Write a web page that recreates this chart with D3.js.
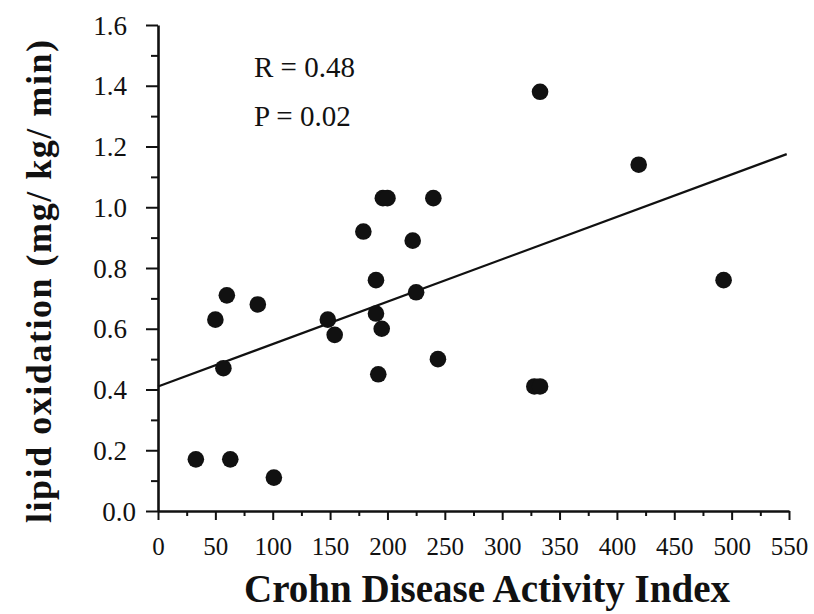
<!DOCTYPE html>
<html>
<head>
<meta charset="utf-8">
<script src="https://cdn.jsdelivr.net/npm/d3@7"></script>
<style>
  html, body { margin: 0; padding: 0; background: #fff; }
  svg { display: block; }
  text { font-family: "Liberation Serif", "Times New Roman", serif; fill: #111; }
</style>
</head>
<body>
<svg id="chart" width="814" height="614"></svg>
<script>
// ---- data ----
const cdaiValues = [33, 63, 101, 57, 50, 60, 87, 148, 154, 179, 190, 190, 195, 192, 196, 200, 222, 225, 240, 244, 328, 333, 333, 419, 493];
const lipidOxValues = [0.17, 0.17, 0.11, 0.47, 0.63, 0.71, 0.68, 0.63, 0.58, 0.92, 0.76, 0.65, 0.60, 0.45, 1.03, 1.03, 0.89, 0.72, 1.03, 0.50, 0.41, 0.41, 1.38, 1.14, 0.76];
const fitX = [0, 548];
const fitY = [0.41, 1.175];
const xTickValues = [0, 50, 100, 150, 200, 250, 300, 350, 400, 450, 500, 550];
const xMinorTicks = [25, 75, 125, 175, 225, 275, 325, 375, 425, 475, 525];
const yTickValues = [0.0, 0.2, 0.4, 0.6, 0.8, 1.0, 1.2, 1.4, 1.6];
const yMinorTicks = [0.1, 0.3, 0.5, 0.7, 0.9, 1.1, 1.3, 1.5];
const statLines = ["R = 0.48", "P = 0.02"];
const xTitle = "Crohn Disease Activity Index";
const yTitle = "lipid oxidation (mg/ kg/ min)";

// ---- layout ----
const svg = d3.select("#chart");
const x = d3.scaleLinear().domain([0, 550]).range([158, 789]);
const y = d3.scaleLinear().domain([0, 1.6]).range([511, 25]);

// minor ticks
svg.append("g").attr("transform", "translate(0,511)")
  .call(d3.axisBottom(x).tickValues(xMinorTicks).tickSize(5).tickSizeOuter(0).tickFormat(""))
  .call(g => g.select(".domain").remove())
  .call(g => g.selectAll("line").attr("stroke", "#111").attr("stroke-width", 2));
svg.append("g").attr("transform", "translate(158,0)")
  .call(d3.axisLeft(y).tickValues(yMinorTicks).tickSize(7).tickSizeOuter(0).tickFormat(""))
  .call(g => g.select(".domain").remove())
  .call(g => g.selectAll("line").attr("stroke", "#111").attr("stroke-width", 2));

// x axis
const gx = svg.append("g").attr("transform", "translate(0,511)")
  .call(d3.axisBottom(x).tickValues(xTickValues).tickSize(9).tickSizeOuter(0).tickFormat(d3.format("d")));
gx.select(".domain").attr("stroke", "#111").attr("stroke-width", 2.6);
gx.selectAll(".tick line").attr("stroke", "#111").attr("stroke-width", 2);
gx.selectAll(".tick text")
  .attr("y", 44).attr("dy", "0")
  .attr("font-size", 25)
  .attr("font-family", "Liberation Serif, serif")
  .attr("fill", "#111");

// y axis
const gy = svg.append("g").attr("transform", "translate(158,0)")
  .call(d3.axisLeft(y).tickValues(yTickValues).tickSize(12).tickSizeOuter(0).tickFormat(d3.format(".1f")));
gy.select(".domain").attr("stroke", "#111").attr("stroke-width", 2.6);
gy.selectAll(".tick line").attr("stroke", "#111").attr("stroke-width", 2);
gy.selectAll(".tick text")
  .attr("x", d => d === 0 ? -22 : -31)
  .attr("dy", "0.34em")
  .attr("font-size", 27)
  .attr("font-family", "Liberation Serif, serif")
  .attr("fill", "#111");

// regression line
svg.append("path")
  .datum(fitX.map((v, i) => [v, fitY[i]]))
  .attr("d", d3.line().x(d => x(d[0])).y(d => y(d[1])))
  .attr("fill", "none").attr("stroke", "#111").attr("stroke-width", 2.2);

// points
svg.append("g").selectAll("circle")
  .data(cdaiValues.map((v, i) => [v, lipidOxValues[i]]))
  .join("circle")
  .attr("cx", d => x(d[0])).attr("cy", d => y(d[1]))
  .attr("r", 8.3).attr("fill", "#111");

// stats
svg.append("g").selectAll("text").data(statLines).join("text")
  .attr("x", 254).attr("y", (d, i) => 77 + i * 49)
  .attr("font-size", 29)
  .text(d => d);

// axis titles
svg.append("text")
  .attr("x", 244).attr("y", 602)
  .attr("font-weight", "bold").attr("font-size", 40)
  .attr("textLength", 486).attr("lengthAdjust", "spacingAndGlyphs")
  .text(xTitle);

svg.append("text")
  .attr("transform", "translate(51,523) rotate(-90)")
  .attr("font-weight", "bold").attr("font-size", 36)
  .attr("textLength", 483).attr("lengthAdjust", "spacing")
  .text(yTitle);
</script>
</body>
</html>
